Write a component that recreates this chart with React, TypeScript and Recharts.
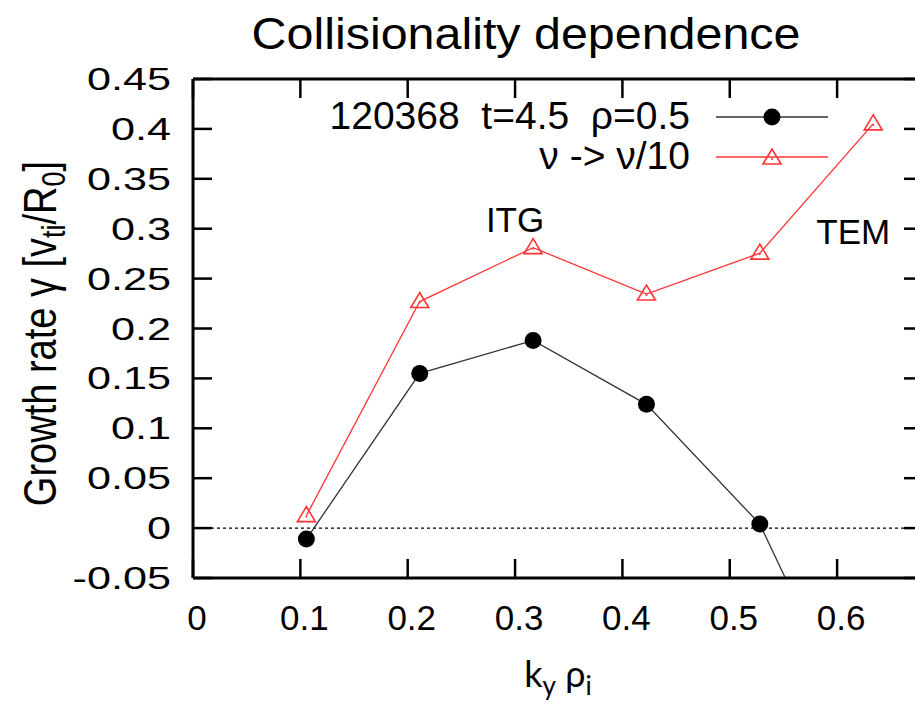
import React from 'react'
import {
  LineChart,
  Line,
  XAxis,
  YAxis,
  ReferenceLine,
  ReferenceDot,
  Legend,
} from 'recharts'

// k_y rho_i values of the scan
const kyValues = [0.1056, 0.2112, 0.3168, 0.4224, 0.528, 0.6336]
// growth rate, nominal collisionality
const gammaNominal = [-0.011, 0.155, 0.188, 0.124, 0.004, -0.236]
// growth rate, collisionality / 10
const gammaLowNu = [0.0125, 0.227, 0.281, 0.2345, 0.2755, 0.405]

const xTicks = [0, 0.1, 0.2, 0.3, 0.4, 0.5, 0.6]
const yTicks = [-0.05, 0, 0.05, 0.1, 0.15, 0.2, 0.25, 0.3, 0.35, 0.4, 0.45]

const seriesNames = ['120368  t=4.5  \u03c1=0.5', '\u03bd -> \u03bd/10']

const annotations = [
  { text: 'ITG', ky: 0.3, gamma: 0.2966 },
  { text: 'TEM', ky: 0.615, gamma: 0.2846 },
]

const data = kyValues.map((ky, i) => ({
  ky,
  nominal: gammaNominal[i],
  lowNu: gammaLowNu[i],
}))

const FONT = '"Liberation Sans", Arial, sans-serif'
const TICK_LEN = 19
const Y_MIN = -0.05
const Y_MAX = 0.45

const fmt = (v: number) => String(parseFloat(v.toFixed(2)))

const BottomTick = ({ x, y, payload }: any) => (
  <g>
    <line x1={x} x2={x} y1={y} y2={y - TICK_LEN} stroke="#000" strokeWidth={2.5} />
    <text x={x + 4} y={y + 52} textAnchor="middle" fontSize={35} fontFamily={FONT} fill="#000">
      {fmt(payload.value)}
    </text>
  </g>
)

const TopTick = ({ x, y }: any) => (
  <line x1={x} x2={x} y1={y} y2={y + TICK_LEN} stroke="#000" strokeWidth={2.5} />
)

// the y tick labels of the original are drawn wider than they are tall
const LeftTick = ({ x, y, payload }: any) => (
  <g>
    <line x1={x} x2={x + TICK_LEN} y1={y} y2={y} stroke="#000" strokeWidth={2.5} />
    <text
      transform={`translate(${x - 22},${y + 11}) scale(1.35,1)`}
      textAnchor="end"
      fontSize={32}
      fontFamily={FONT}
      fill="#000"
    >
      {fmt(payload.value)}
    </text>
  </g>
)

const RightTick = ({ x, y }: any) => (
  <line x1={x} x2={x - TICK_LEN} y1={y} y2={y} stroke="#000" strokeWidth={2.5} />
)

const Triangle = ({ cx, cy, color }: { cx: number; cy: number; color: string }) => (
  <g>
    <polygon
      points={`${cx},${cy - 9} ${cx - 9},${cy + 6} ${cx + 9},${cy + 6}`}
      fill="none"
      stroke={color}
      strokeWidth={1.6}
    />
    <circle cx={cx} cy={cy + 1} r={1} fill={color} />
  </g>
)

const renderCircle = (props: any) => {
  const { cx, cy, value, index } = props
  if (value < Y_MIN || value > Y_MAX) return <g key={index} />
  return <circle key={index} cx={cx} cy={cy} r={8.5} fill="#000" />
}

const renderTriangle = (props: any) => {
  const { cx, cy, index } = props
  return <Triangle key={index} cx={cx} cy={cy} color="#ff3333" />
}

const LegendBox = ({ payload }: any) => (
  <svg width={940} height={200} style={{ display: 'block' }}>
    {(payload || []).map((entry: any, i: number) => {
      const y = 109 + i * 40
      return (
        <g key={entry.value}>
          <text
            x={682}
            y={y + 12}
            textAnchor="end"
            fontSize={39}
            fontFamily={FONT}
            fill="#000"
            style={{ whiteSpace: 'pre' }}
          >
            {entry.value}
          </text>
          <line x1={708} x2={820} y1={y} y2={y} stroke={entry.color} strokeWidth={1.3} />
          {entry.dataKey === 'nominal' ? (
            <circle cx={764} cy={y} r={8.5} fill="#000" />
          ) : (
            <Triangle cx={764} cy={y + 1} color={entry.color} />
          )}
        </g>
      )
    })}
  </svg>
)

const TitleLabel = () => (
  <text
    transform="translate(518,41) scale(1.1,1)"
    textAnchor="middle"
    fontSize={44}
    fontFamily={FONT}
    fill="#000"
  >
    Collisionality dependence
  </text>
)

const XLabel = ({ viewBox }: any) => (
  <text
    x={viewBox.x + viewBox.width / 2}
    y={viewBox.y + 109}
    textAnchor="middle"
    fontSize={36}
    fontFamily="Lato, 'Open Sans', sans-serif"
    fill="#000"
  >
    k
    <tspan fontSize={26} dy={8}>y</tspan>
    <tspan dy={-8}> {'\u03c1'}</tspan>
    <tspan fontSize={26} dy={8}>i</tspan>
  </text>
)

const YLabel = ({ viewBox }: any) => {
  const cx = viewBox.x + 34
  const cy = viewBox.y + viewBox.height / 2 + 5
  return (
    <text
      transform={`translate(${cx},${cy}) rotate(-90) scale(1,1.2)`}
      textAnchor="middle"
      dy={12}
      fontSize={38}
      fontFamily={FONT}
      fill="#000"
    >
      Growth rate {'\u03b3'} [v
      <tspan fontSize={27} dy={7}>ti</tspan>
      <tspan dy={-7}>/R</tspan>
      <tspan fontSize={27} dy={7}>0</tspan>
      <tspan dy={-7}>]</tspan>
    </text>
  )
}

const AnnotationLabel = (text: string) => ({ viewBox }: any) => (
  <text x={viewBox.x} y={viewBox.y} textAnchor="middle" fontSize={35} fontFamily={FONT} fill="#000">
    {text}
  </text>
)

export default function App() {
  return (
    <div
      style={{
        position: 'absolute',
        left: 8,
        top: 8,
        width: 907,
        height: 695,
        overflow: 'hidden',
        background: '#fff',
      }}
    >
      <LineChart
        width={940}
        height={695}
        data={data}
        margin={{ top: 70, right: 24, bottom: 0, left: 0 }}
      >
        <XAxis
          xAxisId="bottom"
          dataKey="ky"
          type="number"
          domain={[0, 0.68]}
          ticks={xTicks}
          allowDataOverflow
          orientation="bottom"
          height={125}
          tickLine={false}
          tickSize={0}
          tickMargin={0}
          axisLine={{ stroke: '#000', strokeWidth: 3 }}
          tick={<BottomTick />}
          interval={0}
          label={<XLabel />}
        />
        <XAxis
          xAxisId="top"
          dataKey="ky"
          type="number"
          domain={[0, 0.68]}
          ticks={xTicks}
          allowDataOverflow
          orientation="top"
          height={1}
          tickLine={false}
          tickSize={0}
          tickMargin={0}
          axisLine={{ stroke: '#000', strokeWidth: 3 }}
          tick={<TopTick />}
          interval={0}
          label={<TitleLabel />}
        />
        <YAxis
          yAxisId="left"
          type="number"
          domain={[Y_MIN, Y_MAX]}
          ticks={yTicks}
          allowDataOverflow
          width={185}
          tickLine={false}
          tickSize={0}
          tickMargin={0}
          axisLine={{ stroke: '#000', strokeWidth: 3 }}
          tick={<LeftTick />}
          interval={0}
          label={<YLabel />}
        />
        <YAxis
          yAxisId="right"
          orientation="right"
          type="number"
          domain={[Y_MIN, Y_MAX]}
          ticks={yTicks}
          allowDataOverflow
          width={1}
          tickLine={false}
          tickSize={0}
          tickMargin={0}
          axisLine={{ stroke: '#000', strokeWidth: 3 }}
          tick={<RightTick />}
          interval={0}
        />
        <ReferenceLine
          xAxisId="bottom"
          yAxisId="left"
          y={0}
          stroke="#000"
          strokeWidth={1.2}
          strokeDasharray="3 3"
        />
        {annotations.map((a) => (
          <ReferenceDot
            key={a.text}
            xAxisId="bottom"
            yAxisId="left"
            x={a.ky}
            y={a.gamma}
            r={0}
            fill="none"
            stroke="none"
            label={AnnotationLabel(a.text)}
          />
        ))}
        <Line
          xAxisId="bottom"
          yAxisId="left"
          dataKey="lowNu"
          name={seriesNames[1]}
          stroke="#ff3333"
          strokeWidth={1.3}
          dot={renderTriangle}
          activeDot={false}
          isAnimationActive={false}
        />
        <Line
          xAxisId="bottom"
          yAxisId="left"
          dataKey="nominal"
          name={seriesNames[0]}
          stroke="#333"
          strokeWidth={1.3}
          dot={renderCircle}
          activeDot={false}
          isAnimationActive={false}
        />
        <Legend
          layout="horizontal"
          verticalAlign="middle"
          align="center"
          content={<LegendBox />}
          itemSorter={(item: any) => (item.dataKey === 'nominal' ? 0 : 1)}
          wrapperStyle={{ left: 0, top: 0, width: 940, height: 200, pointerEvents: 'none' }}
        />
      </LineChart>
    </div>
  )
}
